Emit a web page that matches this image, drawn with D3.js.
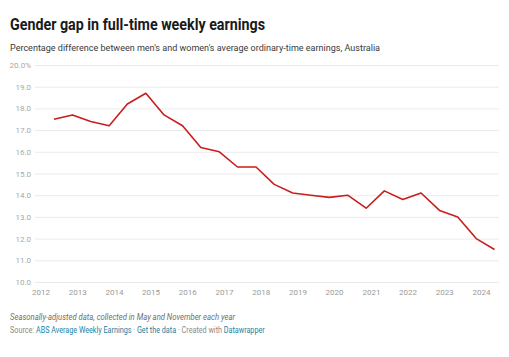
<!DOCTYPE html>
<html>
<head>
<meta charset="utf-8">
<script src="https://cdn.jsdelivr.net/npm/d3@7"></script>
<style>
  html, body { margin: 0; padding: 0; background: #fff; }
  svg { display: block; font-family: Roboto, "Noto Sans", sans-serif; }
</style>
</head>
<body>
<svg id="chart" width="509" height="357"></svg>
<script>
// ---- Data ----
const periods = [
  "2012-05","2012-11","2013-05","2013-11","2014-05","2014-11","2015-05","2015-11",
  "2016-05","2016-11","2017-05","2017-11","2018-05","2018-11","2019-05","2019-11",
  "2020-05","2020-11","2021-05","2021-11","2022-05","2022-11","2023-05","2023-11","2024-05"
];
const gapValues = [
  17.5, 17.7, 17.4, 17.2, 18.2, 18.7, 17.7, 17.2,
  16.2, 16.0, 15.3, 15.3, 14.5, 14.1, 14.0, 13.9,
  14.0, 13.4, 14.2, 13.8, 14.1, 13.3, 13.0, 12.0, 11.5
];
const yTicks = [10, 11, 12, 13, 14, 15, 16, 17, 18, 19, 20];
const xTickYears = [2012, 2013, 2014, 2015, 2016, 2017, 2018, 2019, 2020, 2021, 2022, 2023, 2024];

const titleText = "Gender gap in full-time weekly earnings";
const subtitleText = "Percentage difference between men's and women's average ordinary-time earnings, Australia";
const noteText = "Seasonally-adjusted data, collected in May and November each year";

// ---- Setup ----
const svg = d3.select("#chart");
const parse = d3.timeParse("%Y-%m");
const data = periods.map((p, i) => ({ date: d3.timeDay.offset(parse(p), 14), value: gapValues[i] }));

const plot = { left: 35, right: 499, top: 65, bottom: 282 };

const x = d3.scaleTime()
  .domain(d3.extent(data, d => d.date))
  .range([54, 494.5]);
const y = d3.scaleLinear().domain([10, 20]).range([plot.bottom, plot.top]);

// Title
svg.append("text").attr("x", 10).attr("y", 30)
  .attr("font-size", 16.5).attr("font-weight", 700).attr("fill", "#1a1a1a")
  .attr("textLength", 255).attr("lengthAdjust", "spacingAndGlyphs")
  .text(titleText);
svg.append("text").attr("x", 10).attr("y", 51)
  .attr("font-size", 9.6).attr("fill", "#3a3a3a")
  .attr("textLength", 370).attr("lengthAdjust", "spacingAndGlyphs")
  .text(subtitleText);

// Gridlines + y axis
const yAxis = d3.axisLeft(y).tickValues(yTicks).tickSize(0)
  .tickFormat(d => d === 20 ? d3.format(".1f")(d) + "%" : d3.format(".1f")(d));
const gy = svg.append("g").attr("transform", `translate(${plot.left},0)`).call(yAxis);
gy.select(".domain").remove();
gy.selectAll(".tick line").clone()
  .attr("x2", plot.right - plot.left).attr("stroke", "#ebebeb").attr("stroke-width", 1);
gy.selectAll(".tick text")
  .attr("x", -4).attr("fill", "#a8a8a8").attr("font-size", 8).attr("font-family", "Roboto")
  .attr("text-anchor", "end");

// X axis
const xAxis = d3.axisBottom(x)
  .tickValues(xTickYears.map(yr => new Date(yr, 0, 1)))
  .tickFormat(d3.timeFormat("%Y")).tickSize(0);
const gx = svg.append("g").attr("transform", `translate(0,${plot.bottom})`).call(xAxis);
gx.select(".domain").remove();
gx.selectAll(".tick text").attr("y", 13).attr("dy", "0")
  .attr("fill", "#9a9a9a").attr("font-size", 8).attr("font-family", "Roboto");

// Line
const line = d3.line().x(d => x(d.date)).y(d => y(d.value));
svg.append("path").datum(data)
  .attr("d", line).attr("fill", "none")
  .attr("stroke", "#c71e1d").attr("stroke-width", 1.6)
  .attr("stroke-linejoin", "round");

// Footer
svg.append("text").attr("x", 10).attr("y", 320)
  .attr("font-size", 8.4).attr("font-style", "italic").attr("fill", "#6f6f6f")
  .attr("textLength", 225).attr("lengthAdjust", "spacingAndGlyphs")
  .text(noteText);
const src = svg.append("g").attr("transform", "translate(10,333) scale(0.86,1)")
  .append("text").attr("x", 0).attr("y", 0)
  .attr("font-size", 8.4).attr("fill", "#8a8a8a");
src.append("tspan").text("Source: ");
src.append("tspan").attr("fill", "#1d81a2").text("ABS Average Weekly Earnings");
src.append("tspan").text(" · ");
src.append("tspan").attr("fill", "#1d81a2").text("Get the data");
src.append("tspan").text(" · Created with ");
src.append("tspan").attr("fill", "#1d81a2").text("Datawrapper");
</script>
</body>
</html>
